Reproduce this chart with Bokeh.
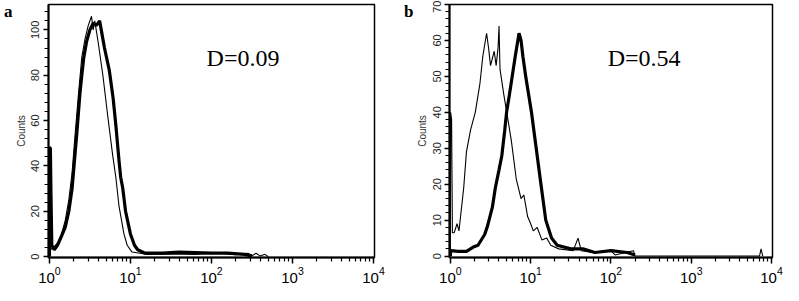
from bokeh.plotting import figure
from bokeh.layouts import row
from bokeh.models import FixedTicker, LinearAxis
from bokeh.models import Label
from bokeh.embed import file_html
from bokeh.resources import INLINE

# ---- data: x positions in decades (log10 of fluorescence), y = counts ----
a_thick_dec = [0.0, 0.004, 0.012, 0.02, 0.03, 0.06, 0.10, 0.15, 0.196, 0.24, 0.28, 0.316, 0.34, 0.377,
               0.40, 0.425, 0.46, 0.50, 0.54, 0.58, 0.62, 0.64, 0.68, 0.74, 0.786, 0.82, 0.86, 0.88,
               0.906, 0.94, 1.0, 1.05, 1.09, 1.18, 1.4, 1.6, 1.8, 2.0, 2.2, 2.41, 2.5]
a_thick_cnt = [0, 48, 48, 26, 5, 3, 5, 9, 13, 20, 30, 45, 55, 72,
               80, 88, 95, 100, 103, 102, 104, 100, 92, 82, 70, 58, 42, 35,
               30, 20, 10, 5, 3, 1.5, 1.5, 2, 1.8, 1.5, 1.5, 1, 0.3]

a_thin_dec = [0.0, 0.004, 0.012, 0.05, 0.10, 0.15, 0.196, 0.24, 0.28, 0.32, 0.36, 0.40, 0.44, 0.48,
              0.52, 0.54, 0.56, 0.60, 0.66, 0.72, 0.78, 0.82, 0.86, 0.92, 0.96, 1.02, 1.2, 1.5,
              1.8, 2.1, 2.3, 2.45, 2.5, 2.55, 2.6, 2.66, 2.7]
a_thin_cnt = [0, 27, 3, 4, 6, 10, 16, 25, 37, 55, 72, 88, 96, 102,
              106, 100, 104, 95, 80, 62, 45, 35, 22, 10, 5, 2, 1, 1.2,
              1, 1.5, 0.8, 1.5, 0.3, 1.5, 0.3, 1, 0]

b_thin_dec = [0.0, 0.003, 0.015, 0.025, 0.048, 0.083, 0.107, 0.166, 0.20, 0.25, 0.31, 0.368, 0.404,
              0.451, 0.475, 0.50, 0.546, 0.57, 0.594, 0.606, 0.618, 0.665, 0.724, 0.76, 0.82, 0.88,
              0.915, 0.962, 1.0, 1.033, 1.08, 1.14, 1.2, 1.25, 1.35, 1.53, 1.59, 1.63, 1.77, 2.0,
              2.05, 2.28, 2.3, 3.85, 3.87, 3.89]
b_thin_cnt = [0, 40, 38, 6.5, 6.5, 9, 7, 19, 29, 35, 40, 48, 55.6,
              62, 58, 53, 57, 53, 58, 64, 52, 45, 37, 32, 21.5, 16,
              17, 11, 9, 7, 8, 4.5, 5, 3, 2, 1.5, 5, 1.5, 1, 1.5,
              0.3, 1.5, 0, 0, 2, 0]

b_thick_dec = [0.0, 0.003, 0.1, 0.2, 0.285, 0.344, 0.427, 0.463, 0.523, 0.56, 0.606, 0.641, 0.677,
               0.70, 0.736, 0.77, 0.808, 0.855, 0.88, 0.903, 0.938, 0.974, 1.01, 1.057, 1.128, 1.188,
               1.26, 1.33, 1.5, 1.65, 1.8, 2.0, 2.2, 2.3]
b_thick_cnt = [0, 1.5, 1.3, 1.3, 2.5, 3, 6, 8.4, 13.6, 19, 24, 28, 35,
               40, 45, 50, 55.6, 62, 60, 55.6, 50, 45, 40, 32, 20, 10,
               5, 3, 2, 2, 1, 1.5, 1, 0.3]

x_major = [1, 10, 100, 1000, 10000]
a_y_major = [0, 20, 40, 60, 80, 100]
b_y_major = [0, 10, 20, 30, 40, 50, 60, 70]
panel_letters = ["a", "b"]
d_texts = ["D=0.09", "D=0.54"]

XMIN = 0.975
YMIN = -0.4


def make_panel(width, left, right, ymax, ymajor, yminor_step, thick_dec, thick_cnt,
               thin_dec, thin_cnt, letter, letter_y, dtext, dpos):
    p = figure(width=width, height=285, x_axis_type="log",
               x_range=(XMIN, 10 ** 4.012), y_range=(YMIN, ymax),
               output_backend="svg", toolbar_location=None,
               min_border_left=left, min_border_right=right,
               min_border_top=4, min_border_bottom=27)
    p.grid.visible = False
    p.outline_line_color = "black"
    p.outline_line_width = 1.5
    p.background_fill_color = "white"

    p.line([10 ** v for v in thin_dec], thin_cnt, line_color="black", line_width=1.1)
    p.line([10 ** v for v in thick_dec], thick_cnt, line_color="black", line_width=3.2)

    minor_x = [k * 10 ** d for d in range(4) for k in range(2, 10)]
    p.xaxis.ticker = FixedTicker(ticks=x_major, minor_ticks=minor_x)
    p.xaxis.major_label_text_font = "Liberation Sans"
    p.xaxis.major_label_text_font_size = "15px"
    p.xaxis.major_label_text_color = "black"
    p.xaxis.major_label_standoff = 3

    ymin_ticks = []
    v = 0
    while v <= ymax:
        ymin_ticks.append(v)
        v += yminor_step
    p.yaxis.ticker = FixedTicker(ticks=ymajor, minor_ticks=ymin_ticks)
    p.yaxis.major_label_orientation = "vertical"
    p.yaxis.major_label_text_font = "Liberation Sans"
    p.yaxis.major_label_text_font_size = "11px"
    p.yaxis.major_label_text_color = "#222"
    p.yaxis.major_label_standoff = 4
    p.yaxis.axis_label = "Counts"
    p.yaxis.axis_label_text_font = "Liberation Sans"
    p.yaxis.axis_label_text_font_style = "normal"
    p.yaxis.axis_label_text_font_size = "10px"
    p.yaxis.axis_label_text_color = "#333"
    p.yaxis.axis_label_standoff = 2

    for ax in (p.xaxis, p.yaxis):
        ax.axis_line_width = 2
        ax.axis_line_color = "black"
        ax.major_tick_line_color = "black"
        ax.minor_tick_line_color = "black"
        ax.major_tick_line_width = 1.5
        ax.minor_tick_line_width = 1.2
        ax.major_tick_in = 0
        ax.minor_tick_in = 0
    p.xaxis.major_tick_out = 6
    p.xaxis.minor_tick_out = 4
    p.yaxis.major_tick_out = 5
    p.yaxis.minor_tick_out = 4

    # panel letter, carried by an extra (invisible) left axis so it is not clipped
    la = LinearAxis(ticker=FixedTicker(ticks=[letter_y], minor_ticks=[]),
                    major_label_overrides={letter_y: letter},
                    major_label_text_font="Liberation Serif",
                    major_label_text_font_style="bold",
                    major_label_text_font_size="17px",
                    major_label_text_color="black",
                    major_label_standoff=0,
                    axis_line_color=None, major_tick_line_color=None,
                    minor_tick_line_color=None, major_tick_out=0, minor_tick_out=0)
    p.add_layout(la, "left")

    p.add_layout(Label(x=dpos[0], y=dpos[1], text=dtext, text_font="Liberation Serif",
                       text_font_size="24px", text_baseline="middle", text_align="left",
                       text_color="black"))
    return p


pa = make_panel(396, 46, 22, 111.2, a_y_major, 4, a_thick_dec, a_thick_cnt,
                a_thin_dec, a_thin_cnt, panel_letters[0], 108, d_texts[0], (87, 87.5))
pb = make_panel(387, 53, 11, 70, b_y_major, 2, b_thick_dec, b_thick_cnt,
                b_thin_dec, b_thin_cnt, panel_letters[1], 68, d_texts[1], (91, 55))

layout = row(pa, pb)
open("out.html", "w").write(file_html(layout, INLINE))
